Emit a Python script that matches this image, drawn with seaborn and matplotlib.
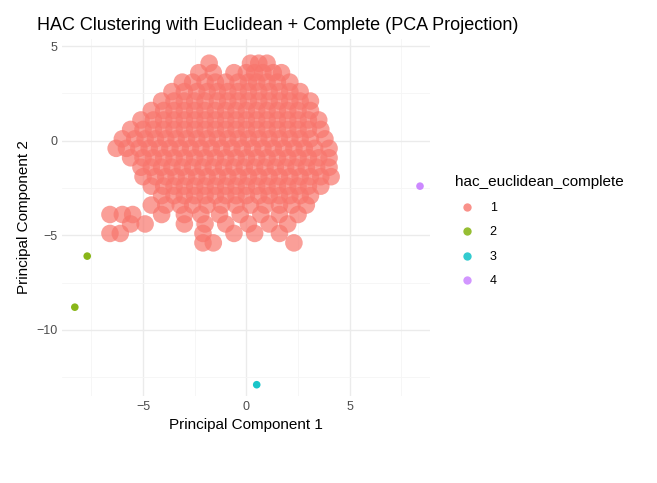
import matplotlib
matplotlib.use("Agg")
import matplotlib.pyplot as plt
import seaborn as sns
import pandas as pd
from matplotlib.lines import Line2D

plt.rcParams["font.family"] = "Liberation Sans"

# Cluster 1 points (hand-read from the dense cloud), rows of (y, [x...])
c1_rows = [
    (4.1, [-1.8, 0.2, 0.6, 1.0]),
    (3.6, [-2.3, -1.6, -0.6, 0.0, 0.4, 0.8, 1.3, 1.7]),
    (3.1, [-3.1, -2.6, -2.0, -1.5, -1.0, -0.4, 0.1, 0.5, 1.0, 1.5, 2.1]),
    (2.6, [-3.6, -3.0, -2.4, -1.9, -1.4, -0.9, -0.4, 0.1, 0.6, 1.1, 1.6, 2.1, 2.6]),
    (2.1, [-4.1, -3.5, -3.0, -2.5, -2.0, -1.4, -0.9, -0.4, 0.1, 0.6, 1.1, 1.6, 2.1, 2.6, 3.1]),
    (1.6, [-4.6, -4.0, -3.5, -3.0, -2.5, -2.0, -1.5, -1.0, -0.5, 0.0, 0.5, 1.0, 1.5, 2.0, 2.5, 3.1]),
    (1.1, [-5.1, -4.5, -4.0, -3.5, -3.0, -2.5, -2.0, -1.5, -1.0, -0.5, 0.0, 0.5, 1.0, 1.5, 2.0, 2.5, 3.0, 3.5]),
    (0.6, [-5.6, -5.0, -4.5, -4.0, -3.5, -3.0, -2.5, -2.0, -1.5, -1.0, -0.5, 0.0, 0.5, 1.0, 1.5, 2.0, 2.5, 3.0, 3.6]),
    (0.1, [-6.0, -5.4, -4.9, -4.4, -3.9, -3.4, -2.9, -2.4, -1.9, -1.4, -0.9, -0.4, 0.1, 0.6, 1.1, 1.6, 2.1, 2.6, 3.1, 3.8]),
    (-0.4, [-6.3, -5.8, -5.2, -4.7, -4.2, -3.7, -3.2, -2.7, -2.2, -1.7, -1.2, -0.7, -0.2, 0.3, 0.8, 1.3, 1.8, 2.3, 2.8, 3.3, 4.0]),
    (-0.9, [-5.6, -5.0, -4.5, -4.0, -3.5, -3.0, -2.5, -2.0, -1.5, -1.0, -0.5, 0.0, 0.5, 1.0, 1.5, 2.0, 2.5, 3.0, 3.5, 4.0]),
    (-1.4, [-5.1, -4.6, -4.1, -3.6, -3.1, -2.6, -2.1, -1.6, -1.1, -0.6, -0.1, 0.4, 0.9, 1.4, 1.9, 2.4, 2.9, 3.4, 4.0]),
    (-1.9, [-5.0, -4.4, -3.9, -3.4, -2.9, -2.4, -1.9, -1.4, -0.9, -0.4, 0.1, 0.6, 1.1, 1.6, 2.1, 2.6, 3.1, 3.6, 4.1]),
    (-2.4, [-4.6, -4.0, -3.5, -3.0, -2.5, -2.0, -1.5, -1.0, -0.5, 0.0, 0.5, 1.0, 1.5, 2.0, 2.5, 3.0, 3.6]),
    (-2.9, [-4.1, -3.5, -3.0, -2.5, -2.0, -1.5, -1.0, -0.5, 0.0, 0.6, 1.1, 1.6, 2.1, 2.6, 3.1]),
    (-3.4, [-4.6, -3.9, -3.2, -2.6, -1.9, -1.2, -0.5, 0.2, 0.9, 1.6, 2.2, 2.9]),
    (-3.9, [-6.6, -6.0, -5.5, -4.1, -3.0, -2.2, -1.3, -0.3, 0.7, 1.6, 2.5]),
    (-4.4, [-5.6, -4.9, -3.0, -2.0, -1.0, 0.1, 1.1, 2.0]),
    (-4.9, [-6.6, -6.1, -2.1, -0.6, 0.4, 1.6]),
    (-5.4, [-2.1, -1.6, 2.3]),
]
c2_x = [-7.7, -8.3]
c2_y = [-6.1, -8.8]
c3_x = [0.5]
c3_y = [-12.9]
c4_x = [8.4]
c4_y = [-2.4]

xs, ys, cl = [], [], []
for y, row in c1_rows:
    for x in row:
        xs.append(x); ys.append(y); cl.append("1")
for lab, cx, cy in [("2", c2_x, c2_y), ("3", c3_x, c3_y), ("4", c4_x, c4_y)]:
    xs += cx; ys += cy; cl += [lab] * len(cx)
df = pd.DataFrame({"x": xs, "y": ys, "hac_euclidean_complete": cl})

palette = {"1": "#F8766D", "2": "#7CAE00", "3": "#00BFC4", "4": "#C77CFF"}

fig = plt.figure(figsize=(6.57, 4.83), dpi=100)
ax = fig.add_axes([0.095, 0.18, 0.56, 0.74])
sub = df[df.hac_euclidean_complete == "1"]
sns.scatterplot(data=sub, x="x", y="y", color=palette["1"], s=160, alpha=0.7,
                edgecolor="none", ax=ax, legend=False)
sns.scatterplot(data=df[df.hac_euclidean_complete != "1"], x="x", y="y",
                hue="hac_euclidean_complete", palette=palette, s=30, alpha=0.9,
                edgecolor="none", ax=ax, legend=False)
ax.set_xlim(-8.9, 8.9)
ax.set_ylim(-13.5, 5.4)
ax.set_xticks([-5, 0, 5])
ax.set_yticks([-10, -5, 0, 5])
ax.set_xticks([-7.5, -2.5, 2.5, 7.5], minor=True)
ax.set_yticks([-12.5, -7.5, -2.5, 2.5], minor=True)
ax.grid(True, which="major", color="#EBEBEB", lw=1.0)
ax.grid(True, which="minor", color="#F5F5F5", lw=0.6)
ax.set_axisbelow(True)
for s in ax.spines.values():
    s.set_visible(False)
ax.tick_params(which="both", length=0, labelsize=9, labelcolor="#4D4D4D")
ax.set_xlabel("Principal Component 1", fontsize=11)
ax.set_ylabel("Principal Component 2", fontsize=11)
ax.set_title("HAC Clustering with Euclidean + Complete (PCA Projection)", fontsize=13, loc="left", x=-0.07)

handles = [Line2D([], [], marker="o", ls="", color=palette[k], alpha=0.8, markersize=6, markeredgewidth=0) for k in "1234"]
fig.legend(handles, list("1234"), title="hac_euclidean_complete", loc="upper left",
           bbox_to_anchor=(0.675, 0.66), frameon=False, fontsize=9, title_fontsize=11,
           alignment="left", labelspacing=1.0, handletextpad=0.8)
fig.savefig("out.png", dpi=100)
